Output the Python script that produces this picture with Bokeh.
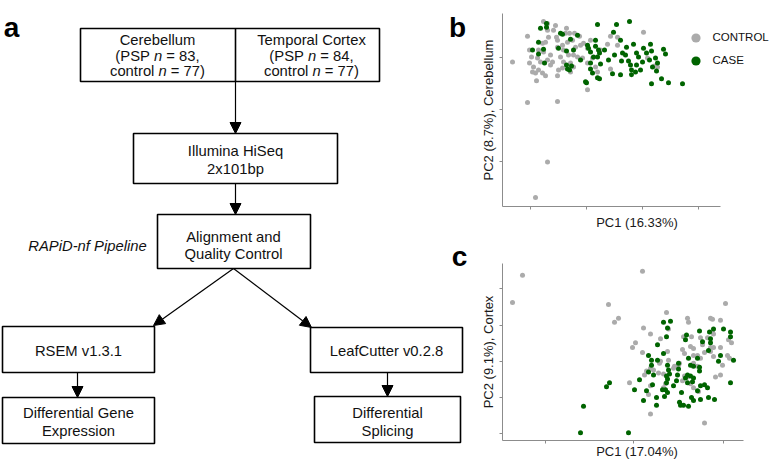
from bokeh.plotting import figure
from bokeh.models import Range1d, Arrow, NormalHead, FixedTicker, Legend, LegendItem
from bokeh.layouts import row, column
from bokeh.embed import file_html
from bokeh.resources import INLINE
from bokeh.core.properties import value

FONT = "Liberation Sans"

# ---------------- data: PCA scores (arbitrary units) ----------------
# Cerebellum (panel b)
cb_control_pc1 = [-74, -59, -57, -57, -53, -54, -51, -48, -44, -41, -50, -43, -39, -39, -44, -41, -38,
                  -48, -43, -49, -46, -39, -34, -36, -30, -29, -29, -24, -23, -26, -23, -24, -28, -29,
                  -21, -17, -12, -19, -14, -18, -13, -9, -16, -13, -16, -6, -3, 1, -4, 1, 1, 9, 11,
                  21, 24, 31, 31, 24, 57, 61, 68, 71, -59, -29, -39, -51,
                  -36, -33, -20, -7, 4, 14, -31, -11, -55, 6]
cb_control_pc2 = [48, 74, 60, 47, 43, 38, 37, 40, 37, 34, 29, 89, 87, 80, 67, 68, 73,
                  60, 58, 52, 48, 50, 48, 45, 73, 70, 63, 65, 60, 53, 48, 42, 40, 34,
                  77, 77, 77, 68, 70, 55, 55, 53, 47, 43, 38, 65, 67, 62, 52, 47, 20, 43, 38,
                  66, 74, 73, 65, 41, 78, 52, 44, 43, 7, 8, -53, -89,
                  55, 80, 82, 74, 70, 60, 85, 63, 53, 52]
cb_case_pc1 = [-46, -40, -40, -54, -48, -48, -43, -42, -26, -24, -28, -20, -16, -13, -9, -20, -19,
               -15, -17, 0, 1, 2, 4, 4, 4, 6, 9, 9, 7, 11, 12, 13, 11, 13, 26, 27, 30, 28, 34,
               36, 39, 35, 42, 43, 44, 45, 45, 47, 50, 52, 50, 49, 54, 57, 60, 64, 65, 63, 66,
               71, 70, 65, 75, 77, 79, 82, 96,
               18, 22, 40, 56, -6, 34, 69, 14, -1, 11]
cb_case_pc2 = [82, 83, 87, 60, 68, 56, 61, 47, 77, 76, 62, 59, 71, 60, 75, 45, 41,
               44, 40, 27, 65, 62, 58, 47, 41, 37, 70, 64, 53, 53, 60, 57, 86, 31, 36, 78, 86, 55, 35,
               57, 55, 49, 49, 89, 45, 40, 35, 66, 57, 53, 45, 38, 40, 62, 57, 66, 59, 50, 43,
               47, 39, 26, 31, 61, 56, 27, 26,
               60, 50, 63, 48, 50, 70, 52, 46, 28, 32]

# Temporal cortex (panel c)
tc_control_pc1 = [-111, -121, 9, -25, -15, -19, 92, 33, 10, 17, 2, -1, 9, -4, 17, 71,
                  54, 55, 77, 79, 87, 79, 80, 50, 58, 67, 74, 57, 60, 49, 51, 69, 77, 80, 71, 77,
                  64, 67, 60, 46, 45, 34, 35, 27, 26, 17, 20, 13, 11, 25, 30, 40, 41, 60, 64, 80,
                  89, 94, 96, 98, 95, 87, 49, 51, 54, 57, 60, 65, 32, 30, 17, 15, 87, 82, 35, 27]
tc_control_pc2 = [88, 60, 92, 58, 44, 40, 59, 50, 34, 28, 19, 14, 9, -22, -54, -63,
                  44, 40, 44, 43, 42, 30, 28, 25, 25, 24, 24, 15, 13, 12, 8, 17, 14, 14, 9, 10,
                  6, 3, 6, -2, -4, 10, 1, 0, -2, -7, -9, -10, -14, -12, -13, -7, -5, -2, -5, 5,
                  -4, 6, 3, 19, 22, 14, -20, -15, -16, -23, -27, -31, -23, -27, -25, -34, -14, -16, 33, 23]
tc_case_pc1 = [-50, -53, -5, -27, -24, 30, 37, 34, 24, 33, 30, 15, 18, 24, 18, 15, 20, 34, 35, 36,
               33, 45, 45, 53, 52, 66, 69, 76, 80, 77, 77, 90, 97, 97, 87, 97, 100, 85, 75, 66,
               66, 64, 55, 57, 60, 54, 52, 57, 60, 54, 59, 67, 71, 74, 64, 75, 81, 67, 58, 60,
               48, 46, 47, 50, 55, 40, 43, 44, 33, 34, 29, 32, 31, 34, 23, 23, 10, 13, 19, 6, 1]
tc_case_pc2 = [-46, -73, -73, -26, -22, 40, 41, 34, 17, 25, 8, 6, 1, 1, -4, -11, -14, -4, -9, -13,
               -15, -2, -8, 27, 22, 31, 20, 30, 33, 23, 19, 33, 30, 25, 6, -22, 1, 0, 11, -6,
               -10, 3, 3, -4, -5, -14, -17, -15, -17, -22, -21, -25, -24, -27, -30, -37, -39, -39, -37, -40,
               -32, -42, -45, -45, -46, -25, -20, -14, -22, -18, -29, -29, -36, -32, -37, -45, -40, -30, -24, -19, -29]

group_labels = ["CONTROL", "CASE"]
group_colors = ["#ababab", "#006400"]

b_xlabel = "PC1 (16.33%)"
b_ylabel = "PC2 (8.7%), Cerebellum"
c_xlabel = "PC1 (17.04%)"
c_ylabel = "PC2 (9.1%), Cortex"

b_xticks = [-56, 0, 56, 112]
b_yticks = [-53, 0, 53]
c_xticks = [-88, 0, 90]
c_yticks = [-74, -37, 0, 37, 74]

# ---------------- flowchart (panel a) ----------------
# Arial / Liberation Sans advance widths (per 1000 em)
AW = {" ": 278, "(": 333, ")": 333, ",": 278, "=": 584, "P": 667, "S": 667, "c": 500, "o": 556,
      "n": 556, "t": 278, "r": 333, "l": 222}
for d in "0123456789":
    AW[d] = 556

FS = 14.8


def tw(s):
    return sum(AW[ch] for ch in s) * FS / 1000.0


fa = figure(width=470, height=461, x_range=Range1d(0, 470), y_range=Range1d(461, 0),
            x_axis_type=None, y_axis_type=None, output_backend="svg", toolbar_location=None,
            min_border=0)
fa.grid.visible = False
fa.outline_line_color = None

boxes_l = [80, 133, 157, 2, 2, 310, 314]
boxes_r = [379, 337, 310, 154, 154, 462, 460]
boxes_t = [28, 133, 214, 326, 397, 327, 396]
boxes_b = [81, 183, 268, 372, 443, 372, 442]
fa.quad(left=boxes_l, right=boxes_r, top=boxes_t, bottom=boxes_b, fill_color=None,
        line_color="black", line_width=1.6)
fa.segment(x0=[235], y0=[28], x1=[235], y1=[81], line_color="black", line_width=1.6)

arrows = [((235, 81), (235, 133)), ((235, 183), (235, 214)), ((233, 268), (153, 325)),
          ((233, 268), (311, 327)), ((77, 372), (77, 397)), ((387, 372), (387, 396))]
for (x0, y0), (x1, y1) in arrows:
    fa.add_layout(Arrow(end=NormalHead(size=11, fill_color="black", line_color="black", line_width=1),
                        x_start=x0, y_start=y0, x_end=x1, y_end=y1, line_color="black", line_width=1.2))

plain_x = [157, 311, 235, 235, 233, 233, 78, 78, 78, 386, 387, 387]
plain_y = [39, 39, 150, 168, 236, 253, 350, 412, 430, 350, 412, 430]
plain_t = ["Cerebellum", "Temporal Cortex", "Illumina HiSeq", "2x101bp", "Alignment and",
           "Quality Control", "RSEM v1.3.1", "Differential Gene", "Expression", "LeafCutter v0.2.8",
           "Differential", "Splicing"]
fa.text(x=plain_x, y=plain_y, text=plain_t, text_font=value(FONT), text_font_size=f"{FS}px",
        text_align="center", text_baseline="middle", text_color="#111111")

fa.text(x=[87], y=[245], text=["RAPiD-nf Pipeline"], text_font=value(FONT), text_font_size=f"{FS}px",
        text_font_style="italic", text_align="center", text_baseline="middle", text_color="#111111")

# lines with an italic "n"
mixed = [(157, 55, "(PSP", "= 83,"), (157, 70, "control", "= 77)"),
         (311, 55, "(PSP", "= 84,"), (311, 70, "control", "= 77)")]
nx, ny, nt, ix, iy = [], [], [], [], []
for cx, cy, pre, suf in mixed:
    total = tw(pre) + tw(" ") + tw("n") + tw(" ") + tw(suf)
    left = cx - total / 2
    nx += [left, left + tw(pre) + 2 * tw(" ") + tw("n")]
    ny += [cy, cy]
    nt += [pre, suf]
    ix.append(left + tw(pre) + tw(" "))
    iy.append(cy)
fa.text(x=nx, y=ny, text=nt, text_font=value(FONT), text_font_size=f"{FS}px",
        text_align="left", text_baseline="middle", text_color="#111111")
fa.text(x=ix, y=iy, text=["n"] * len(ix), text_font=value(FONT), text_font_size=f"{FS}px",
        text_font_style="italic", text_align="left", text_baseline="middle", text_color="#111111")

fa.text(x=[11, 457, 459], y=[27, 27, 256], text=["a", "b", "c"], text_font=value(FONT),
        text_font_size="28px", text_font_style="bold", text_align="center", text_baseline="alphabetic",
        text_color="black")


# ---------------- scatter panels ----------------
def scatter_fig(h, xr, yr, mtop, mbot):
    p = figure(width=301, height=h, x_range=Range1d(*xr), y_range=Range1d(*yr),
               output_backend="svg", toolbar_location=None, min_border=0)
    p.min_border_left = 32
    p.min_border_right = 0
    p.min_border_top = mtop
    p.min_border_bottom = mbot
    p.grid.visible = False
    p.outline_line_color = None
    return p


def style(p, xt, yt, xb, yb, xl, yl, xstand, ystand):
    p.xaxis.ticker = FixedTicker(ticks=xt)
    p.yaxis.ticker = FixedTicker(ticks=yt)
    p.xaxis.bounds = xb
    p.yaxis.bounds = yb
    p.xaxis.axis_label = xl
    p.yaxis.axis_label = yl
    p.xaxis.axis_label_standoff = xstand
    p.yaxis.axis_label_standoff = ystand
    p.xaxis.major_label_overrides = {t: "" for t in xt}
    p.yaxis.major_label_overrides = {t: "" for t in yt}
    for ax in (p.xaxis[0], p.yaxis[0]):
        ax.axis_line_color = "#8c8c8c"
        ax.axis_line_width = 1
        ax.major_tick_line_color = "#8c8c8c"
        ax.major_tick_out = 3
        ax.major_tick_in = 0
        ax.minor_tick_line_color = None
        ax.minor_tick_out = 0
        ax.major_label_text_font_size = "0px"
        ax.major_label_standoff = 0
        ax.axis_label_text_font = FONT
        ax.axis_label_text_font_size = "13px"
        ax.axis_label_text_font_style = "normal"
        ax.axis_label_text_color = "#1a1a1a"


fb = scatter_fig(232, (-84, 185), (-98, 97), 13, 24)
style(fb, b_xticks, b_yticks, (-84, 134), (-98, 97), b_xlabel, b_ylabel, 5, 4)
rb0 = fb.scatter(cb_control_pc1, cb_control_pc2, size=5, color=group_colors[0], line_width=0)
rb1 = fb.scatter(cb_case_pc1, cb_case_pc2, size=5, color=group_colors[1], line_width=0)
leg = Legend(items=[LegendItem(label=group_labels[0], renderers=[rb0]),
                    LegendItem(label=group_labels[1], renderers=[rb1])],
             location=(181.5, 134.5), glyph_width=23, glyph_height=23, label_height=23,
             spacing=0, padding=0, margin=0, label_standoff=6, border_line_color=None,
             background_fill_alpha=0, label_text_font=FONT, label_text_font_size="11.5px",
             label_text_color="#111111")
fb.add_layout(leg)

fc = scatter_fig(229, (-131, 138), (-81, 100), 31, 17)
style(fc, c_xticks, c_yticks, (-131, 110), (-81, 100), c_xlabel, c_ylabel, 0, 4)
fc.scatter(tc_control_pc1, tc_control_pc2, size=5, color=group_colors[0], line_width=0)
fc.scatter(tc_case_pc1, tc_case_pc2, size=5, color=group_colors[1], line_width=0)

layout = row(fa, column(fb, fc))
open("out.html", "w").write(file_html(layout, INLINE))
